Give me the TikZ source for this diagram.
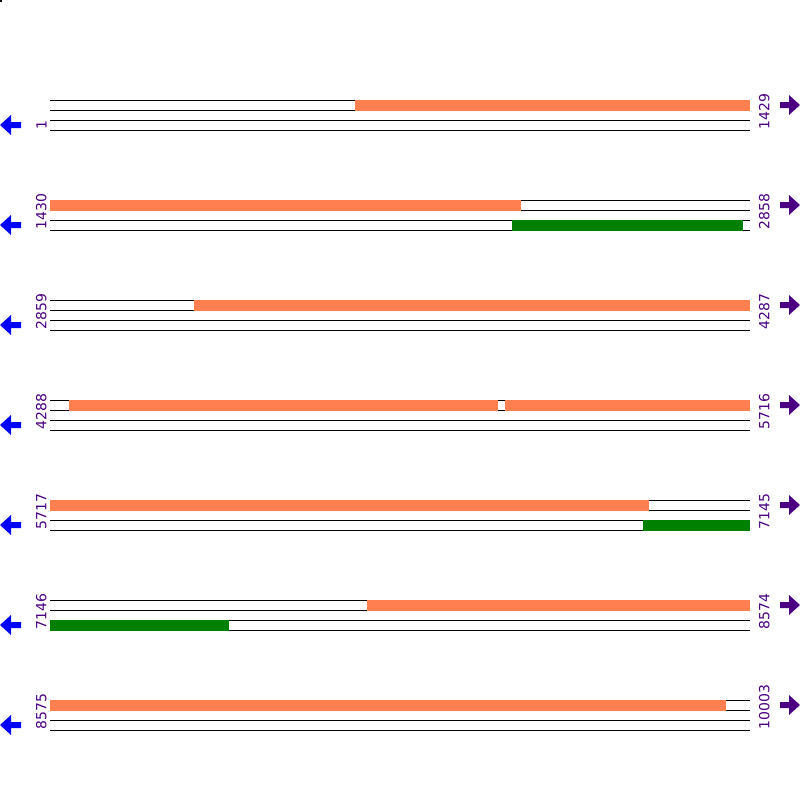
\documentclass[tikz,border=0pt]{standalone}
\usepackage{fontspec}
\newfontfamily\numfont{DejaVu Sans}
\definecolor{fwdorange}{HTML}{FF7F50}
\definecolor{revgreen}{HTML}{008000}
\definecolor{posviolet}{HTML}{4B0082}
\definecolor{backblue}{HTML}{0000FF}

\begin{document}
\begin{tikzpicture}[x=1pt, y=-1pt, line width=1pt,
  strand/.style={black, line width=1pt},
  fwdbar/.style={fill=fwdorange},
  revbar/.style={fill=revgreen},
  posnum/.style={text=posviolet, font=\numfont\fontsize{14}{14}\selectfont,
                 rotate=90, inner sep=0pt, anchor=south west}]

% Canvas
\useasboundingbox (0,0) rectangle (800,800);
\fill[black] (0,0) rectangle (2,2);

% Rows: four strand lines, start/end labels and arrows
\foreach \r/\lo/\hi in {0/1/1429, 1/1430/2858, 2/2859/4287, 3/4288/5716,
                        4/5717/7145, 5/7146/8574, 6/8575/10003} {
  \pgfmathsetmacro{\yb}{100+100*\r}
  \foreach \dy in {0,10,20,30}
    \draw[strand] (50,\yb+\dy) -- (750,\yb+\dy);
  \node[posnum] (lo\r) at (47,\yb+30) {\lo};
  \node[posnum] (hi\r) at (770,\yb+30) {\hi};
  % back arrow (left)
  \fill[backblue] (0,\yb+25) -- (11,\yb+15) -- (11,\yb+22) -- (21,\yb+22)
    -- (21,\yb+28) -- (11,\yb+28) -- (11,\yb+35) -- cycle;
  % forward arrow (right)
  \fill[posviolet] (800,\yb+5) -- (789,\yb-5) -- (789,\yb+2) -- (780,\yb+2)
    -- (780,\yb+8) -- (789,\yb+8) -- (789,\yb+15) -- cycle;
}

% Forward bars (upper pair)
\foreach \r/\a/\b in {0/355/750, 1/50/521, 2/194/750, 3/69/498, 3/505/750,
                      4/50/649, 5/367/750, 6/50/726} {
  \pgfmathsetmacro{\yb}{100+100*\r}
  \fill[fwdbar] (\a,\yb-0.5) rectangle (\b,\yb+10.5);
}

% Reverse bars (lower pair)
\foreach \r/\a/\b in {1/512/743, 4/643/750, 5/50/229} {
  \pgfmathsetmacro{\yb}{100+100*\r}
  \fill[revbar] (\a,\yb+19.5) rectangle (\b,\yb+30.5);
}

\end{tikzpicture}
\end{document}
